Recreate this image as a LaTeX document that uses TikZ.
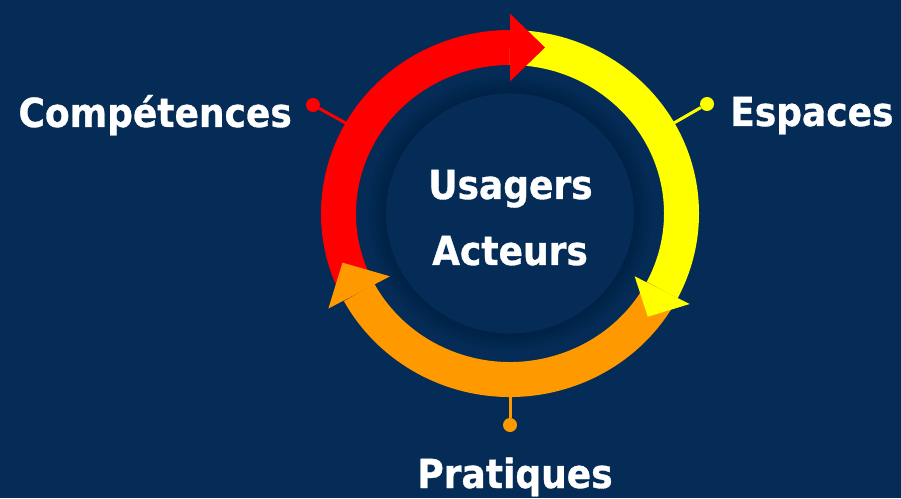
\documentclass[tikz,border=0pt]{standalone}
\usepackage{fontspec}
\usepackage{xcolor}
\usetikzlibrary{calc}
\newfontfamily\labelfont[FakeStretch=0.9, BoldFeatures={FakeBold=0.8}]{DejaVu Sans}
\definecolor{navy}{RGB}{4,44,86}
\definecolor{ringred}{RGB}{255,0,0}
\definecolor{ringyellow}{RGB}{255,255,0}
\definecolor{ringorange}{RGB}{255,153,0}
\tikzstyle{band}=[line width=35pt, line cap=butt]
\tikzstyle{callout}=[line width=3pt]
\tikzstyle{dot}=[circle, inner sep=0pt, minimum size=14pt]
\tikzstyle{label}=[text=white, inner sep=0pt, font=\labelfont\bfseries\fontsize{40}{48}\selectfont]

\begin{document}
\begin{tikzpicture}[x=1pt, y=1pt]
\clip (0,0) rectangle (901,498);
\fill[navy] (0,0) rectangle (901,498);%background

\begin{scope}[shift={(510,284.5)}, yscale=0.968]
\coordinate (ringC) at (150.4:171.5);
\coordinate (ringE) at (29.6:171.5);
\coordinate (ringP) at (-90:171.5);
%halo round the inner disc
\fill[black, opacity=0.035] (0,0) circle (142);
\fill[black, opacity=0.035] (0,0) circle (138);
\fill[black, opacity=0.035] (0,0) circle (134);
\fill[black, opacity=0.035] (0,0) circle (130);
\fill[black, opacity=0.035] (0,0) circle (127);
\fill[navy] (0,0) circle (124);%inner disc
\end{scope}

\node[dot, fill=ringred] (dotC) at (313,393) {};
\node[dot, fill=ringyellow] (dotE) at (707,394) {};
\node[dot, fill=ringorange] (dotP) at (510,73) {};
\draw[callout, ringred] (dotC) -- (ringC);
\draw[callout, ringyellow] (dotE) -- (ringE);
\draw[callout, ringorange] (dotP) -- (ringP);

\begin{scope}[shift={(510,284.5)}, yscale=0.968]
\draw[band, ringred] (208.4:171.5) arc[start angle=208.4, end angle=90, radius=171.5];%red band
\draw[band, ringyellow] (90:171.5) arc[start angle=90, end angle=-27.5, radius=171.5];%yellow band
\draw[band, ringorange] (-27.5:171.5) arc[start angle=-27.5, end angle=-151.6, radius=171.5];%orange band

\fill[ringred] (90:136.5) -- (90:206.5) -- ($(90:171.5)+(0:35)$) -- cycle;%red head
\fill[ringyellow] (-27.5:140.5) -- (-27.5:202.5) -- ($(-27.5:171.5)+(-117.5:31)$) -- cycle;%yellow head
\fill[ringorange] (208.4:136.5) -- (208.4:206.5) -- ($(208.4:171.5)+(118.4:35)$) -- cycle;%orange head
\end{scope}

\node[label, anchor=base east] (competences) at (292,371) {Compétences};
\node[label, anchor=base west] (espaces) at (730,372) {Espaces};
\node[label, anchor=base] (pratiques) at (515,10) {Pratiques};
\node[label, anchor=base] (usagers) at (510.5,299) {Usagers};
\node[label, anchor=base] (acteurs) at (510,233) {Acteurs};
\end{tikzpicture}
\end{document}
